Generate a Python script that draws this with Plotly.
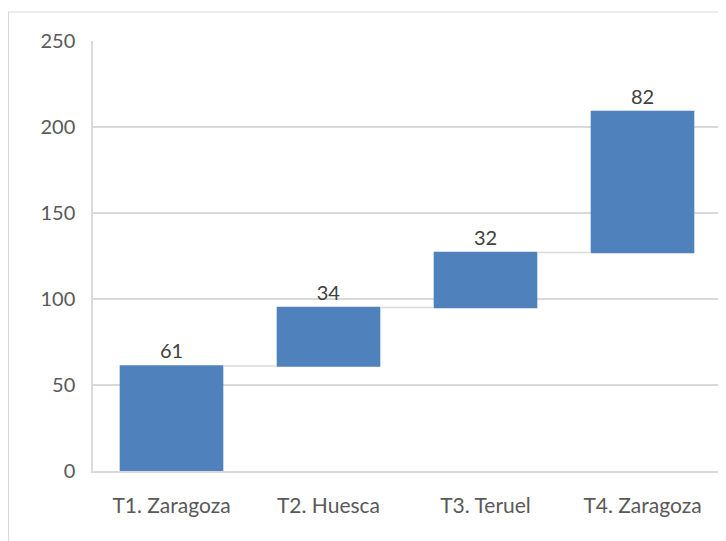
import plotly.graph_objects as go

categories = ["T1. Zaragoza", "T2. Huesca", "T3. Teruel", "T4. Zaragoza"]
values = [61, 34, 32, 82]
y_ticks = [0, 50, 100, 150, 200, 250]

# page body has an 8px margin, so the figure is laid out in shifted coordinates
W, H = 718, 533
ml, mr, mt, mb = 85, 5, 33, 70
pw, ph = W - ml - mr, H - mt - mb

fig = go.Figure(go.Waterfall(
    x=categories,
    y=values,
    measure=["relative"] * len(values),
    text=[str(v) for v in values],
    textposition="outside",
    textfont=dict(family="Lato, sans-serif", size=20, color="#404040"),
    increasing=dict(marker=dict(color="#4f81bd")),
    connector=dict(line=dict(color="#d9d9d9", width=1.5)),
    width=0.66,
    cliponaxis=False,
    showlegend=False,
))

fig.update_layout(
    width=W, height=H,
    margin=dict(l=ml, r=mr, t=mt, b=mb),
    paper_bgcolor="white",
    plot_bgcolor="white",
    font=dict(family="Lato, sans-serif", size=20, color="#595959"),
    xaxis=dict(
        showline=True, linecolor="#d9d9d9", linewidth=1.5,
        ticks="", ticklabelstandoff=15,
        tickfont=dict(size=21, color="#595959"),
    ),
    yaxis=dict(
        range=[0, 250], tickvals=y_ticks,
        showgrid=True, gridcolor="#d9d9d9", gridwidth=1.5,
        showline=True, linecolor="#d9d9d9", linewidth=1.5,
        zeroline=False, ticks="", ticklabelstandoff=12,
        tickfont=dict(size=20, color="#595959"),
    ),
    shapes=[dict(
        type="rect", xref="paper", yref="paper",
        x0=(0.5 - ml) / pw, x1=(W + 10 - ml) / pw,
        y0=-(H + 10 - mt - ph) / ph, y1=(mt + ph - 4) / ph,
        line=dict(color="#d9d9d9", width=1.2), fillcolor="rgba(0,0,0,0)",
        layer="below",
    )],
)

fig.write_html("out.html")
